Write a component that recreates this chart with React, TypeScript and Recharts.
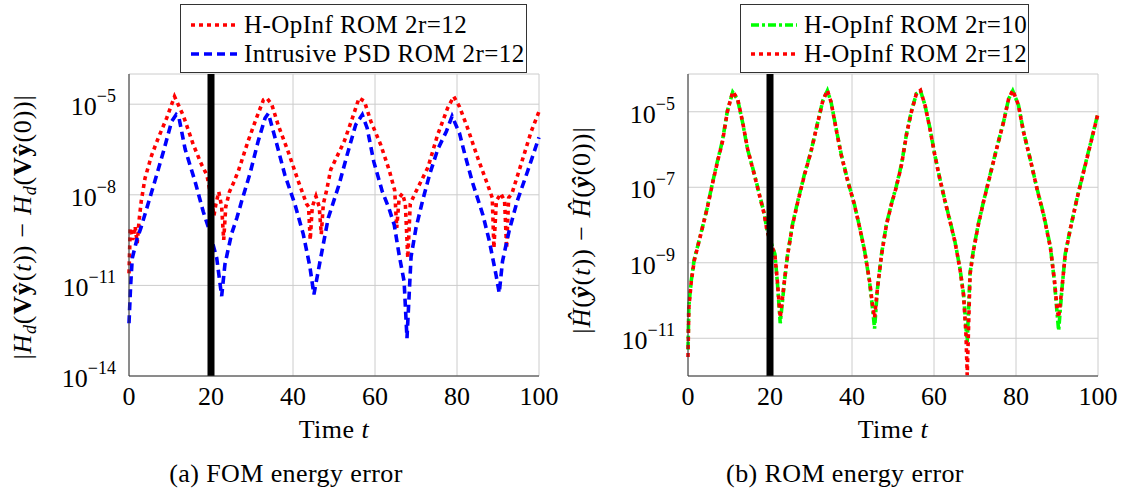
import React from "react";
import { LineChart, Line, XAxis, YAxis, CartesianGrid, ReferenceLine, Legend } from "recharts";

const FONT = "'Liberation Serif', 'DejaVu Serif', 'Noto Serif', serif";
const FRAME = "#333333";
const GRID = "#cccccc";

const timeTicks = [0, 20, 40, 60, 80, 100];
const fomTicks = [1e-14, 1e-11, 1e-8, 1e-5];
const romTicks = [1e-11, 1e-9, 1e-7, 1e-5];

// (a) FOM energy error, H-OpInf ROM 2r=12
const fomOpInfTime = [
  0, 0.3, 0.9, 1.5, 2.0, 2.5, 3.0, 3.9, 5.5, 7.2,
  9.2, 11.1, 13.3, 15.7, 17.7, 19.0, 20.2, 20.7, 21.2, 21.9,
  22.6, 23.1, 23.6, 24.5, 25.5, 26.7, 29.1, 31.1, 32.8, 33.6,
  34.8, 36.4, 38.9, 41.3, 43.3, 43.8, 44.2, 44.7, 45.6, 46.4,
  46.9, 47.4, 48.2, 49.2, 52.5, 54.5, 56.1, 57.4, 59.0, 61.4,
  63.5, 64.8, 65.3, 65.9, 66.7, 67.4, 68.0, 68.6, 69.6, 72.9,
  75.3, 77.7, 79.2, 80.6, 82.6, 85.1, 87.5, 88.6, 89.0, 89.6,
  90.7, 91.6, 92.1, 92.6, 93.4, 95.6, 98.1, 100,
];
const fomOpInf = [
  2.5e-11, 8e-10, 3.2e-10, 9e-10, 2.5e-10, 1.6e-9, 6.3e-9, 3.5e-8, 2e-7, 8e-7,
  3.5e-6, 1.8e-5, 4e-6, 4.5e-7, 1e-7, 4.5e-8, 6.3e-9, 2e-9, 5e-9, 1.25e-8,
  4e-9, 3.2e-10, 4e-9, 1.25e-8, 2.5e-8, 6.3e-8, 6.3e-7, 3.5e-6, 1.4e-5, 1.6e-5,
  1e-5, 2e-6, 2.5e-7, 2.8e-8, 5e-9, 4e-9, 3.2e-10, 4e-9, 9e-9, 4e-9,
  5e-10, 5e-9, 1.4e-8, 6.8e-8, 5.9e-7, 3.5e-6, 1.6e-5, 1.25e-5, 2.7e-6, 4.5e-7,
  6.3e-8, 1.4e-8, 8e-10, 8e-9, 1.1e-8, 5e-9, 8e-11, 5e-9, 1e-8, 8e-8,
  1e-6, 7.4e-6, 1.8e-5, 8.3e-6, 1.6e-6, 1.6e-7, 2.1e-8, 8e-9, 1.7e-10, 6.3e-9,
  1.1e-8, 6.3e-9, 1.7e-10, 8e-9, 1.1e-8, 1e-7, 1.25e-6, 5.7e-6,
];

// (a) FOM energy error, intrusive PSD ROM 2r=12
const fomPsdTime = [
  0, 0.4, 0.8, 1.9, 2.9, 5.1, 6.3, 8.4, 10.4, 11.5,
  12.2, 13.7, 16.1, 18.1, 19.4, 21.4, 22.6, 23.4, 25.0, 26.3,
  27.5, 29.5, 31.5, 33.2, 34.0, 36.0, 38.0, 40.5, 42.5, 44.1,
  45.1, 46.6, 48.6, 50.2, 51.2, 53.2, 55.3, 56.9, 58.1, 59.7,
  61.8, 63.4, 64.7, 65.9, 67.1, 67.8, 68.8, 70.0, 71.6, 73.3,
  75.3, 77.4, 78.8, 80.6, 81.8, 83.8, 86.3, 87.9, 89.5, 90.3,
  91.1, 92.7, 94.7, 97.2, 100,
];
const fomPsd = [
  5.6e-13, 1e-11, 8e-11, 3.2e-10, 8e-10, 8e-9, 2.8e-8, 2.7e-7, 2.7e-6, 4.5e-6,
  3.5e-6, 3.2e-7, 2.8e-8, 2.8e-9, 8e-10, 8e-11, 4.4e-12, 5e-11, 5e-10, 1.7e-9,
  6.3e-9, 5e-8, 5.9e-7, 3.5e-6, 5e-6, 5e-7, 4.6e-8, 4.7e-9, 5e-10, 4.3e-11,
  5e-12, 6.3e-11, 1.7e-9, 8e-9, 2.1e-8, 2.1e-7, 2.1e-6, 4.5e-6, 1.6e-6, 1.25e-7,
  1.25e-8, 3.6e-9, 1e-9, 1e-10, 1.35e-11, 1.8e-13, 9e-11, 8e-10, 6.3e-9, 4.6e-8,
  3.2e-7, 1.25e-6, 4e-6, 1.1e-6, 2.5e-7, 2.5e-8, 2.2e-9, 2.9e-10, 2.3e-11, 5.6e-12,
  6.3e-11, 6.3e-10, 6.3e-9, 5.9e-8, 8e-7,
];

// (b) ROM energy error
const romTime = [
  0, 0.2, 0.8, 1.5, 2.3, 3.5, 4.7, 5.9, 7.2, 8.4,
  9.6, 10.9, 12.1, 13.3, 14.5, 16.2, 17.4, 18.6, 19.3, 21.2,
  21.8, 22.5, 23.5, 24.3, 25.5, 26.8, 28.4, 30.0, 31.7, 32.9,
  34.0, 34.9, 36.1, 37.4, 39.0, 40.6, 41.9, 43.1, 44.3, 45.1,
  45.5, 46.2, 47.2, 48.4, 49.6, 50.8, 52.1, 53.3, 54.5, 55.7,
  56.7, 57.8, 59.0, 60.2, 61.4, 62.7, 63.9, 65.1, 66.3, 67.2,
  67.8, 68.1, 68.8, 69.6, 70.8, 72.1, 73.7, 75.3, 77.0, 78.2,
  79.2, 80.6, 81.8, 83.4, 85.1, 86.7, 88.4, 89.4, 90.0, 90.4,
  91.2, 92.0, 93.3, 94.9, 96.5, 98.1, 100,
];
const romOpInf10 = [
  5e-12, 7e-11, 3.4e-10, 1.2e-9, 2.6e-9, 8.5e-9, 2.9e-8, 1.2e-7, 5e-7, 1.7e-6,
  1.05e-5, 3.3e-5, 2.1e-5, 5.3e-6, 1.05e-6, 2.2e-7, 6.6e-8, 2e-8, 7e-9, 1.7e-9,
  3e-10, 2.5e-11, 3e-10, 1.7e-9, 1.05e-8, 4.4e-8, 2.2e-7, 9e-7, 5.6e-6, 2e-5,
  3.6e-5, 1.8e-5, 3.7e-6, 7.2e-7, 1.45e-7, 3.5e-8, 8.5e-9, 2e-9, 3e-10, 5e-11,
  1.8e-11, 2e-10, 1.7e-9, 1.05e-8, 3.6e-8, 1.05e-7, 4.2e-7, 2.6e-6, 1.05e-5, 3e-5,
  3.6e-5, 1.5e-5, 3.7e-6, 7.2e-7, 1.75e-7, 4.3e-8, 1.3e-8, 3.7e-9, 7.4e-10, 1.5e-10,
  2e-11, 8e-12, 5.5e-10, 2.1e-9, 1.05e-8, 4.3e-8, 2.2e-7, 1.1e-6, 5.6e-6, 2.2e-5,
  3.6e-5, 1.5e-5, 3.1e-6, 6e-7, 9.5e-8, 2e-8, 2.6e-9, 3e-10, 5e-11, 1.6e-11,
  2e-10, 1.7e-9, 8.5e-9, 5.2e-8, 2.7e-7, 1.35e-6, 9.2e-6,
];
const romOpInf12 = [
  3.2e-12, 6.3e-11, 3.2e-10, 1.1e-9, 2.5e-9, 8.3e-9, 2.8e-8, 1.15e-7, 4.8e-7, 1.6e-6,
  1e-5, 3.4e-5, 2.2e-5, 5.5e-6, 1.07e-6, 2.1e-7, 6.3e-8, 1.9e-8, 6.8e-9, 1.6e-9,
  3.2e-10, 3.5e-11, 3.2e-10, 1.6e-9, 1e-8, 4.2e-8, 2.1e-7, 8.7e-7, 5.5e-6, 2e-5,
  3.7e-5, 1.8e-5, 3.6e-6, 7e-7, 1.4e-7, 3.4e-8, 8.3e-9, 2e-9, 3.2e-10, 6.3e-11,
  3.5e-11, 2.1e-10, 1.6e-9, 1e-8, 3.5e-8, 1e-7, 4e-7, 2.5e-6, 1e-5, 3e-5,
  3.7e-5, 1.5e-5, 3.6e-6, 7e-7, 1.7e-7, 4.2e-8, 1.25e-8, 3.6e-9, 7.2e-10, 1.4e-10,
  1.25e-11, 1.05e-12, 5e-10, 2e-9, 1e-8, 4.2e-8, 2.1e-7, 1.07e-6, 5.5e-6, 2.2e-5,
  3.7e-5, 1.5e-5, 3e-6, 5.9e-7, 9.3e-8, 1.9e-8, 2.5e-9, 3.2e-10, 6.3e-11, 3.5e-11,
  2.1e-10, 1.6e-9, 8.3e-9, 5.1e-8, 2.6e-7, 1.3e-6, 9e-6,
];

const fomOpInfRows = fomOpInfTime.map((t, i) => ({ t, v: fomOpInf[i] }));
const fomPsdRows = fomPsdTime.map((t, i) => ({ t, v: fomPsd[i] }));
const romRows = romTime.map((t, i) => ({ t, r10: romOpInf10[i], r12: romOpInf12[i] }));

const RED = { stroke: "#ff0000", dash: "4 4" };
const BLUE = { stroke: "#0000ff", dash: "8 5" };
const GREEN = { stroke: "#00ff00", dash: "8 3 3 3" };
const LW = 3.6;

const PowerTick = ({ x, y, payload }: any) => {
  const e = Math.round(Math.log10(payload.value));
  return (
    <text x={x - 11} y={y + 11} textAnchor="end" fontFamily={FONT} fontSize={26} fill="#000">
      10<tspan dy={-13} fontSize={18}>{"\u2212" + Math.abs(e)}</tspan>
    </text>
  );
};

const TimeTick = ({ x, y, payload }: any) => (
  <text x={x} y={y + 27} textAnchor="middle" fontFamily={FONT} fontSize={26} fill="#000">
    {payload.value}
  </text>
);

const timeTitle = () => (
  <text x={334} y={438} textAnchor="middle" fontFamily={FONT} fontSize={26} letterSpacing={0.5} fill="#000">
    Time <tspan fontStyle="italic">t</tspan>
  </text>
);

const fomTitle = () => (
  <text x={31} y={227} transform="rotate(-90 31 227)" textAnchor="middle" fontFamily={FONT} fontSize={26}
    letterSpacing={0.8} fill="#000">
    |<tspan fontStyle="italic">H</tspan>
    <tspan fontStyle="italic" fontSize={18} dy={5}>d</tspan>
    <tspan dy={-5}>(</tspan>
    <tspan fontWeight="bold">Vŷ</tspan>(<tspan fontStyle="italic">t</tspan>)) − <tspan fontStyle="italic">H</tspan>
    <tspan fontStyle="italic" fontSize={18} dy={5}>d</tspan>
    <tspan dy={-5}>(</tspan>
    <tspan fontWeight="bold">Vŷ</tspan>(0))|
  </text>
);

const romTitle = () => (
  <text x={31} y={230} transform="rotate(-90 31 230)" textAnchor="middle" fontFamily={FONT} fontSize={26}
    letterSpacing={1} fill="#000">
    |<tspan fontStyle="italic">Ĥ</tspan>(<tspan fontWeight="bold" fontStyle="italic">ŷ</tspan>(<tspan fontStyle="italic">t</tspan>)) − <tspan fontStyle="italic">Ĥ</tspan>(<tspan fontWeight="bold" fontStyle="italic">ŷ</tspan>(0))|
  </text>
);

type Item = { name: string; stroke: string; dash: string };

const LegendBox = ({ items, width }: { items: Item[]; width: number }) => (
  <div
    style={{
      width,
      height: 69,
      boxSizing: "border-box",
      border: `1px solid ${FRAME}`,
      background: "#fff",
      paddingTop: 5,
      paddingLeft: 10,
      fontFamily: FONT,
      fontSize: 25,
      letterSpacing: 0.45,
      color: "#000",
    }}
  >
    {items.map((it) => (
      <div key={it.name} style={{ display: "flex", alignItems: "center", height: 29 }}>
        <svg width={53} height={10} style={{ flex: "none" }}>
          <line x1={0} y1={5} x2={46} y2={5} stroke={it.stroke} strokeWidth={LW} strokeDasharray={it.dash} />
        </svg>
        <span style={{ whiteSpace: "nowrap", lineHeight: "29px" }}>{it.name}</span>
      </div>
    ))}
  </div>
);

const Caption = ({ text }: { text: string }) => (
  <div
    style={{
      position: "absolute",
      left: 86,
      width: 400,
      top: 459,
      textAlign: "center",
      fontFamily: FONT,
      fontSize: 26,
      letterSpacing: 0.4,
      lineHeight: "30px",
      color: "#000",
      pointerEvents: "none",
    }}
  >
    {text}
  </div>
);

const MARGIN = { top: 74, right: 21, bottom: 90, left: 0 };

const FomPanel = () => (
  <div style={{ position: "absolute", left: 0, top: 0, width: 560, height: 496 }}>
    <LineChart width={560} height={496} margin={MARGIN}>
      <CartesianGrid stroke={GRID} />
      <XAxis type="number" dataKey="t" domain={[0, 100]} ticks={timeTicks} height={30} tickSize={0} tickLine={false}
        axisLine={{ stroke: FRAME }} tick={<TimeTick />} label={{ content: timeTitle }} />
      <YAxis type="number" scale="log" domain={[1e-14, 1e-4]} ticks={fomTicks} allowDataOverflow width={129} tickSize={0}
        tickLine={false} axisLine={{ stroke: FRAME }} tick={<PowerTick />} interval={0} label={{ content: fomTitle }} />
      <XAxis xAxisId="top" orientation="top" type="number" domain={[0, 100]} height={0} tick={false} tickLine={false} axisLine={{ stroke: FRAME }} />
      <YAxis yAxisId="right" orientation="right" type="number" scale="log" domain={[1e-14, 1e-4]} width={0} tick={false} tickLine={false} axisLine={{ stroke: FRAME }} />
      <Line data={fomOpInfRows} dataKey="v" name="H-OpInf ROM 2r=12" stroke={RED.stroke} strokeWidth={LW}
        strokeDasharray={RED.dash} dot={false} isAnimationActive={false} />
      <Line data={fomPsdRows} dataKey="v" name="Intrusive PSD ROM 2r=12" stroke={BLUE.stroke} strokeWidth={LW}
        strokeDasharray={BLUE.dash} dot={false} isAnimationActive={false} />
      <ReferenceLine x={20} stroke="#000" strokeWidth={7} />
      <Legend layout="vertical" align="center" verticalAlign="middle" wrapperStyle={{ left: 180, top: 4, width: 347, height: 69 }}
        content={() => (
          <LegendBox width={347} items={[
            { name: "H-OpInf ROM 2r=12", ...RED },
            { name: "Intrusive PSD ROM 2r=12", ...BLUE },
          ]} />
        )} />
    </LineChart>
    <Caption text="(a) FOM energy error" />
  </div>
);

const RomPanel = () => (
  <div style={{ position: "absolute", left: 559, top: 0, width: 560, height: 496 }}>
    <LineChart width={560} height={496} margin={MARGIN} data={romRows}>
      <CartesianGrid stroke={GRID} />
      <XAxis type="number" dataKey="t" domain={[0, 100]} ticks={timeTicks} height={30} tickSize={0} tickLine={false}
        axisLine={{ stroke: FRAME }} tick={<TimeTick />} label={{ content: timeTitle }} />
      <YAxis type="number" scale="log" domain={[1e-12, 1e-4]} ticks={romTicks} allowDataOverflow width={129} tickSize={0}
        tickLine={false} axisLine={{ stroke: FRAME }} tick={<PowerTick />} interval={0} label={{ content: romTitle }} />
      <XAxis xAxisId="top" orientation="top" type="number" domain={[0, 100]} height={0} tick={false} tickLine={false} axisLine={{ stroke: FRAME }} />
      <YAxis yAxisId="right" orientation="right" type="number" scale="log" domain={[1e-12, 1e-4]} width={0} tick={false} tickLine={false} axisLine={{ stroke: FRAME }} />
      <Line dataKey="r10" name="H-OpInf ROM 2r=10" stroke={GREEN.stroke} strokeWidth={LW}
        strokeDasharray={GREEN.dash} dot={false} isAnimationActive={false} />
      <Line dataKey="r12" name="H-OpInf ROM 2r=12" stroke={RED.stroke} strokeWidth={LW}
        strokeDasharray={RED.dash} dot={false} isAnimationActive={false} />
      <ReferenceLine x={20} stroke="#000" strokeWidth={7} />
      <Legend layout="vertical" align="center" verticalAlign="middle" wrapperStyle={{ left: 181, top: 4, width: 289, height: 69 }}
        content={() => (
          <LegendBox width={289} items={[
            { name: "H-OpInf ROM 2r=10", ...GREEN },
            { name: "H-OpInf ROM 2r=12", ...RED },
          ]} />
        )} />
    </LineChart>
    <Caption text="(b) ROM energy error" />
  </div>
);

export default function App() {
  return (
    <div style={{ position: "absolute", left: 0, top: 0, width: 1125, height: 496, background: "#fff" }}>
      <FomPanel />
      <RomPanel />
    </div>
  );
}
